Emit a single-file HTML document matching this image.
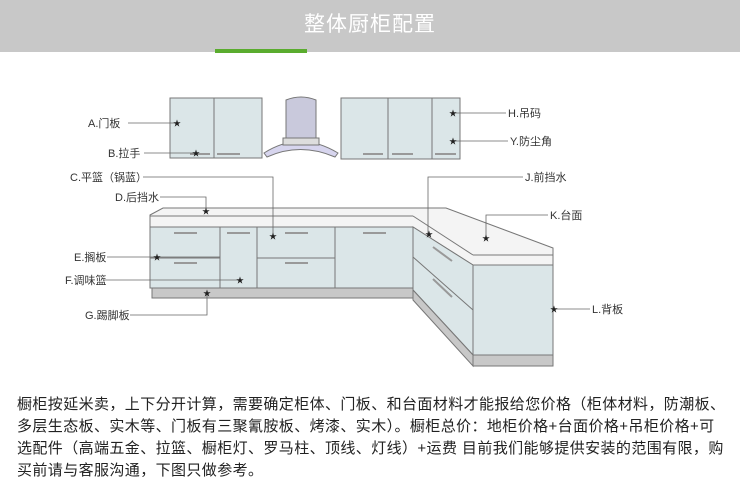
<!DOCTYPE html>
<html><head><meta charset="utf-8"><style>
body{margin:0;width:740px;height:477px;background:#fff;overflow:hidden;font-family:"Liberation Sans","Noto Sans CJK SC",sans-serif;}
.hdr{position:absolute;left:0;top:0;width:740px;height:52px;background:#c8c8c8;}
.ttl{position:absolute;left:0;width:740px;top:11px;text-align:center;color:#fff;font-size:21px;line-height:28px;letter-spacing:1px}
.bar{position:absolute;left:215px;top:49px;width:92px;height:4px;background:#5aac2e}
.txt{position:absolute;left:17px;top:394px;font-size:15px;line-height:22px;color:#222;white-space:nowrap;letter-spacing:0.4px}
svg{position:absolute;left:0;top:0}
</style></head><body>
<div class="hdr"></div><div class="ttl">整体厨柜配置</div><div class="bar"></div>
<svg width="740" height="477" font-family="Liberation Sans,Noto Sans CJK SC,sans-serif" font-size="11" fill="#333">
<g stroke="#777" stroke-width="1" fill="#dbe6e8">
<rect x="170" y="98" width="92" height="60"/><line x1="214" y1="98" x2="214" y2="158"/>
<path d="M286 100 Q301 94 316 100 L316 141 L286 141 Z" fill="#c9c9dc"/>
<path d="M264 153 Q300 130 338 153 L335 157 Q300 142 267 157 Z" fill="#d7d5ee"/>
<rect x="283" y="138" width="36" height="7" fill="#ddd"/>
<rect x="341" y="98" width="119" height="61"/><line x1="388" y1="98" x2="388" y2="159"/><line x1="432" y1="98" x2="432" y2="159"/>
<path d="M150 215 L163 208 L446 208 L553 248 L553 265 L473 265 L413 227 L150 227 Z" fill="#f4f4f4"/>
<line x1="150" y1="216" x2="413" y2="216"/><line x1="413" y1="216" x2="473" y2="255"/><line x1="473" y1="255" x2="553" y2="255"/>
<rect x="150" y="227" width="263" height="61"/>
<rect x="152" y="288" width="261" height="10" fill="#c8c8c8"/>
<line x1="220" y1="227" x2="220" y2="288"/><line x1="257" y1="227" x2="257" y2="288"/><line x1="335" y1="227" x2="335" y2="288"/>
<line x1="150" y1="258" x2="220" y2="258"/><line x1="257" y1="258" x2="335" y2="258"/>
<path d="M413 227 L473 265 L473 355 L413 290 Z"/>
<path d="M413 290 L473 355 L473 366 L413 300 Z" fill="#c8c8c8"/>
<line x1="413" y1="257" x2="473" y2="310"/>
<rect x="473" y="265" width="80" height="90"/>
<rect x="473" y="355" width="80" height="11" fill="#c8c8c8"/>
</g>
<g stroke="#999" stroke-width="2">
<line x1="190" y1="154" x2="210" y2="154"/><line x1="217" y1="154" x2="240" y2="154"/>
<line x1="363" y1="154" x2="383" y2="154"/><line x1="392" y1="154" x2="413" y2="154"/><line x1="435" y1="154" x2="456" y2="154"/>
<line x1="174" y1="233" x2="197" y2="233"/><line x1="174" y1="263" x2="197" y2="263"/><line x1="227" y1="233" x2="250" y2="233"/>
<line x1="285" y1="233" x2="308" y2="233"/><line x1="285" y1="263" x2="308" y2="263"/><line x1="363" y1="233" x2="386" y2="233"/>
<line x1="433" y1="247" x2="452" y2="261"/><line x1="433" y1="279" x2="452" y2="297"/>
</g>
<g stroke="#666" stroke-width="0.8" fill="none">
<polyline points="128,123 177,123"/><polyline points="144,153 196,153"/>
<polyline points="143,177 273,177 273,236"/><polyline points="160,197 206,197 206,211"/>
<polyline points="107,257 220,257"/><polyline points="104,280 240,280"/>
<polyline points="130,315 207,315 207,293"/>
<polyline points="453,113 506,113"/><polyline points="453,141 508,141"/>
<polyline points="523,177 428,177 428,234"/><polyline points="548,215 486,215 486,238"/>
<polyline points="554,309 590,309"/>
</g>
<g font-size="8" fill="#222" text-anchor="middle">
<text x="177" y="126">★</text><text x="196" y="156">★</text><text x="273" y="239">★</text><text x="206" y="214">★</text>
<text x="157" y="260">★</text><text x="240" y="283">★</text><text x="207" y="296">★</text>
<text x="453" y="116">★</text><text x="453" y="144">★</text><text x="429" y="237">★</text><text x="486" y="241">★</text><text x="554" y="312">★</text>
</g>
<text x="88" y="127">A.门板</text><text x="108" y="157">B.拉手</text><text x="70" y="181">C.平篮（锅蓝）</text>
<text x="115" y="201">D.后挡水</text><text x="74" y="261">E.搁板</text><text x="65" y="284">F.调味篮</text><text x="85" y="319">G.踢脚板</text>
<text x="508" y="117">H.吊码</text><text x="510" y="145">Y.防尘角</text><text x="525" y="181">J.前挡水</text>
<text x="550" y="219">K.台面</text><text x="592" y="313">L.背板</text>
</svg>
<div class="txt">橱柜按延米卖，上下分开计算，需要确定柜体、门板、和台面材料才能报给您价格（柜体材料，防潮板、<br>多层生态板、实木等、门板有三聚氰胺板、烤漆、实木）。橱柜总价：地柜价格+台面价格+吊柜价格+可<br>选配件（高端五金、拉篮、橱柜灯、罗马柱、顶线、灯线）+运费 目前我们能够提供安装的范围有限，购<br>买前请与客服沟通，下图只做参考。</div>
</body></html>
